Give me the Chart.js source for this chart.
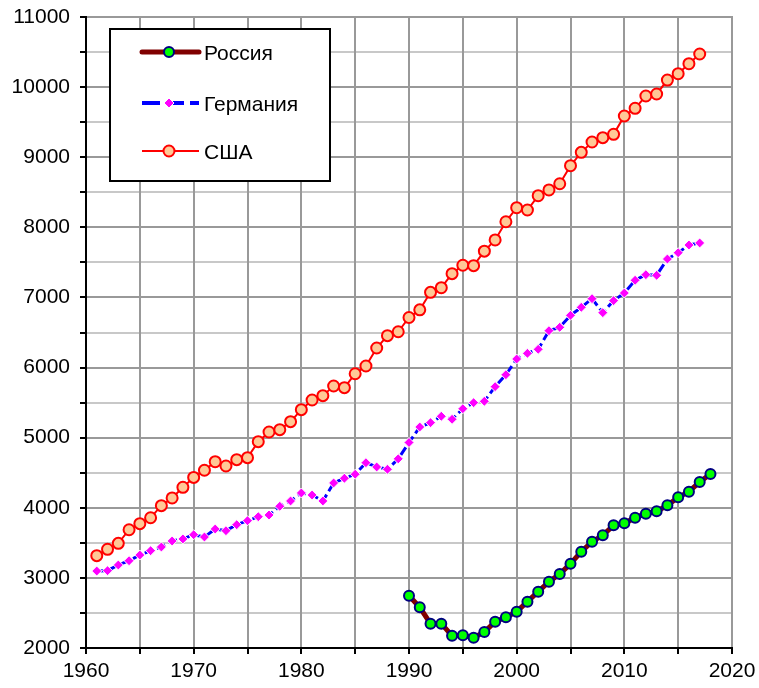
<!DOCTYPE html>
<html>
<head>
<meta charset="utf-8">
<script src="https://cdn.jsdelivr.net/npm/chart.js@4.4.1/dist/chart.umd.min.js"></script>
<style>
html,body{margin:0;padding:0;background:#fff;}
#wrap{position:relative;width:759px;height:688px;}
</style>
</head>
<body>
<div id="wrap"><canvas id="c" width="759" height="688"></canvas></div>
<script>
// ---- Data ----
const seriesNames = ['Россия', 'Германия', 'США'];

const russiaYears = [1990,1991,1992,1993,1994,1995,1996,1997,1998,1999,2000,2001,2002,2003,2004,2005,2006,2007,2008,2009,2010,2011,2012,2013,2014,2015,2016,2017,2018];
const russiaValues = [2746,2580,2347,2347,2176,2181,2147,2228,2376,2438,2518,2661,2803,2946,3056,3203,3374,3516,3607,3750,3779,3859,3916,3950,4035,4149,4230,4368,4482];

const germanyYears = [1961,1962,1963,1964,1965,1966,1967,1968,1969,1970,1971,1972,1973,1974,1975,1976,1977,1978,1979,1980,1981,1982,1983,1984,1985,1986,1987,1988,1989,1990,1991,1992,1993,1994,1995,1996,1997,1998,1999,2000,2001,2002,2003,2004,2005,2006,2007,2008,2009,2010,2011,2012,2013,2014,2015,2016,2017];
const germanyValues = [3098,3103,3184,3245,3326,3388,3441,3526,3555,3616,3583,3697,3673,3759,3816,3873,3897,4021,4097,4211,4182,4097,4354,4421,4478,4643,4582,4549,4698,4931,5152,5214,5305,5262,5413,5499,5519,5728,5898,6122,6203,6260,6526,6574,6745,6859,6983,6783,6954,7063,7245,7325,7316,7548,7638,7748,7777];

const usaYears = [1961,1962,1963,1964,1965,1966,1967,1968,1969,1970,1971,1972,1973,1974,1975,1976,1977,1978,1979,1980,1981,1982,1983,1984,1985,1986,1987,1988,1989,1990,1991,1992,1993,1994,1995,1996,1997,1998,1999,2000,2001,2002,2003,2004,2005,2006,2007,2008,2009,2010,2011,2012,2013,2014,2015,2016,2017];
const usaValues = [3317,3408,3493,3687,3773,3858,4030,4140,4292,4433,4535,4657,4596,4686,4715,4943,5081,5114,5228,5399,5537,5599,5737,5713,5912,6022,6279,6455,6511,6714,6823,7073,7139,7339,7459,7453,7660,7820,8080,8280,8247,8451,8533,8622,8879,9070,9217,9279,9327,9588,9698,9873,9902,10101,10191,10334,10472];

const xMin = 1960, xMax = 2020, xLabelStep = 10, xGridStep = 5;
const yMin = 2000, yMax = 11000, yLabelStep = 1000, yGridStep = 500;

function pts(xs, ys){ return xs.map((x,i)=>({x:x, y:ys[i]})); }

// ---- Styles ----
const styles = [
  {line:'#800000', width:5, dash:[], pStyle:'circle', pR:5, pFill:'#00ff00', pBorder:'#000080', pBW:2},
  {line:'#0000ff', width:3, dash:[9,4], pStyle:'rectRot', pR:5, pFill:'#ff00ff', pBorder:'#ffffff', pBW:1},
  {line:'#ff0000', width:2, dash:[], pStyle:'circle', pR:5.5, pFill:'#ffc896', pBorder:'#ff0000', pBW:2}
];

const FONT = '"Liberation Sans", Arial, sans-serif';
const FS = 21;

// grid lines drawn from the library's scales, under everything else
const gridPlugin = {
  id: 'gridUnder',
  beforeDraw(chart){
    const ctx = chart.ctx, a = chart.chartArea;
    const xs = chart.scales.x, ys = chart.scales.y;
    ctx.save();
    ctx.lineWidth = 2;
    ys.ticks.forEach(t => {
      const py = Math.round(ys.getPixelForValue(t.value));
      ctx.strokeStyle = (t.value % yLabelStep === 0) ? '#999999' : '#c8c8c8';
      ctx.beginPath(); ctx.moveTo(a.left, py); ctx.lineTo(a.right, py); ctx.stroke();
    });
    xs.ticks.forEach(t => {
      const px = Math.round(xs.getPixelForValue(t.value));
      ctx.strokeStyle = '#999999';
      ctx.beginPath(); ctx.moveTo(px, a.top - 1); ctx.lineTo(px, a.bottom); ctx.stroke();
    });
    ctx.restore();
  }
};

const legendPlugin = {
  id: 'boxLegend',
  afterDraw(chart){
    const ctx = chart.ctx;
    ctx.save();
    const bx = 110, by = 29, bw = 220, bh = 152;
    ctx.fillStyle = '#fff';
    ctx.fillRect(bx, by, bw, bh);
    ctx.strokeStyle = '#000';
    ctx.lineWidth = 2;
    ctx.strokeRect(bx, by, bw, bh);
    const rows = [52, 103, 151];
    [0,1,2].forEach((k, i) => {
      const s = styles[k];
      const y = rows[i];
      ctx.save();
      ctx.strokeStyle = s.line;
      ctx.lineWidth = k === 1 ? 4 : s.width;
      ctx.lineCap = k === 0 ? 'round' : 'butt';
      ctx.setLineDash(k === 1 ? [18, 6] : s.dash);
      ctx.beginPath();
      ctx.moveTo(142, y);
      ctx.lineTo(199, y);
      ctx.stroke();
      ctx.restore();
      ctx.fillStyle = s.pFill;
      ctx.strokeStyle = s.pBorder;
      ctx.lineWidth = s.pBW;
      ctx.beginPath();
      if (s.pStyle === 'circle') {
        ctx.arc(169, y, s.pR, 0, Math.PI*2);
      } else {
        ctx.moveTo(169, y - s.pR); ctx.lineTo(169 + s.pR, y); ctx.lineTo(169, y + s.pR); ctx.lineTo(169 - s.pR, y); ctx.closePath();
      }
      ctx.fill();
      ctx.stroke();
      ctx.fillStyle = '#000';
      ctx.font = FS + 'px ' + FONT;
      ctx.textBaseline = 'middle';
      ctx.textAlign = 'left';
      ctx.fillText(seriesNames[k], 204, y + 2);
    });
    ctx.restore();
  }
};

const datasets = [
  {label: seriesNames[2], data: pts(usaYears, usaValues)},
  {label: seriesNames[1], data: pts(germanyYears, germanyValues)},
  {label: seriesNames[0], data: pts(russiaYears, russiaValues)}
].map((d, i) => {
  const s = styles[2 - i];
  return Object.assign(d, {
    borderColor: s.line, borderWidth: s.width, borderDash: s.dash,
    pointStyle: s.pStyle, pointRadius: s.pR, pointHoverRadius: s.pR,
    pointBackgroundColor: s.pFill, pointBorderColor: s.pBorder, pointBorderWidth: s.pBW,
    tension: 0, fill: false
  });
});

new Chart(document.getElementById('c'), {
  type: 'line',
  data: {datasets},
  options: {
    responsive: false,
    animation: false,
    devicePixelRatio: 1,
    layout: {padding: {left: 0, top: 17, right: 27, bottom: 0}},
    plugins: {legend: {display: false}, tooltip: {enabled: false}},
    scales: {
      x: {
        type: 'linear', min: xMin, max: xMax,
        afterFit(s){ s.height = 40; s.paddingLeft = 0; s.paddingRight = 0; },
        ticks: {
          stepSize: xGridStep, autoSkip: false, maxRotation: 0,
          color: '#000', font: {family: FONT, size: FS}, padding: 5,
          callback: v => (v % xLabelStep === 0 ? String(v) : '')
        },
        grid: {drawOnChartArea: false, color: '#000', lineWidth: 2, tickColor: '#000', tickLength: 6, tickWidth: 2},
        border: {color: '#000', width: 2}
      },
      y: {
        type: 'linear', min: yMin, max: yMax,
        afterFit(s){ s.width = 86; s.paddingTop = 0; s.paddingBottom = 0; },
        ticks: {
          stepSize: yGridStep, autoSkip: false,
          color: '#000', font: {family: FONT, size: FS}, padding: 10,
          callback: v => (v % yLabelStep === 0 ? String(v) : '')
        },
        grid: {drawOnChartArea: false, color: '#000', lineWidth: 2, tickColor: '#000', tickLength: 6, tickWidth: 2},
        border: {color: '#000', width: 2}
      }
    }
  },
  plugins: [gridPlugin, legendPlugin]
});
</script>
</body>
</html>
